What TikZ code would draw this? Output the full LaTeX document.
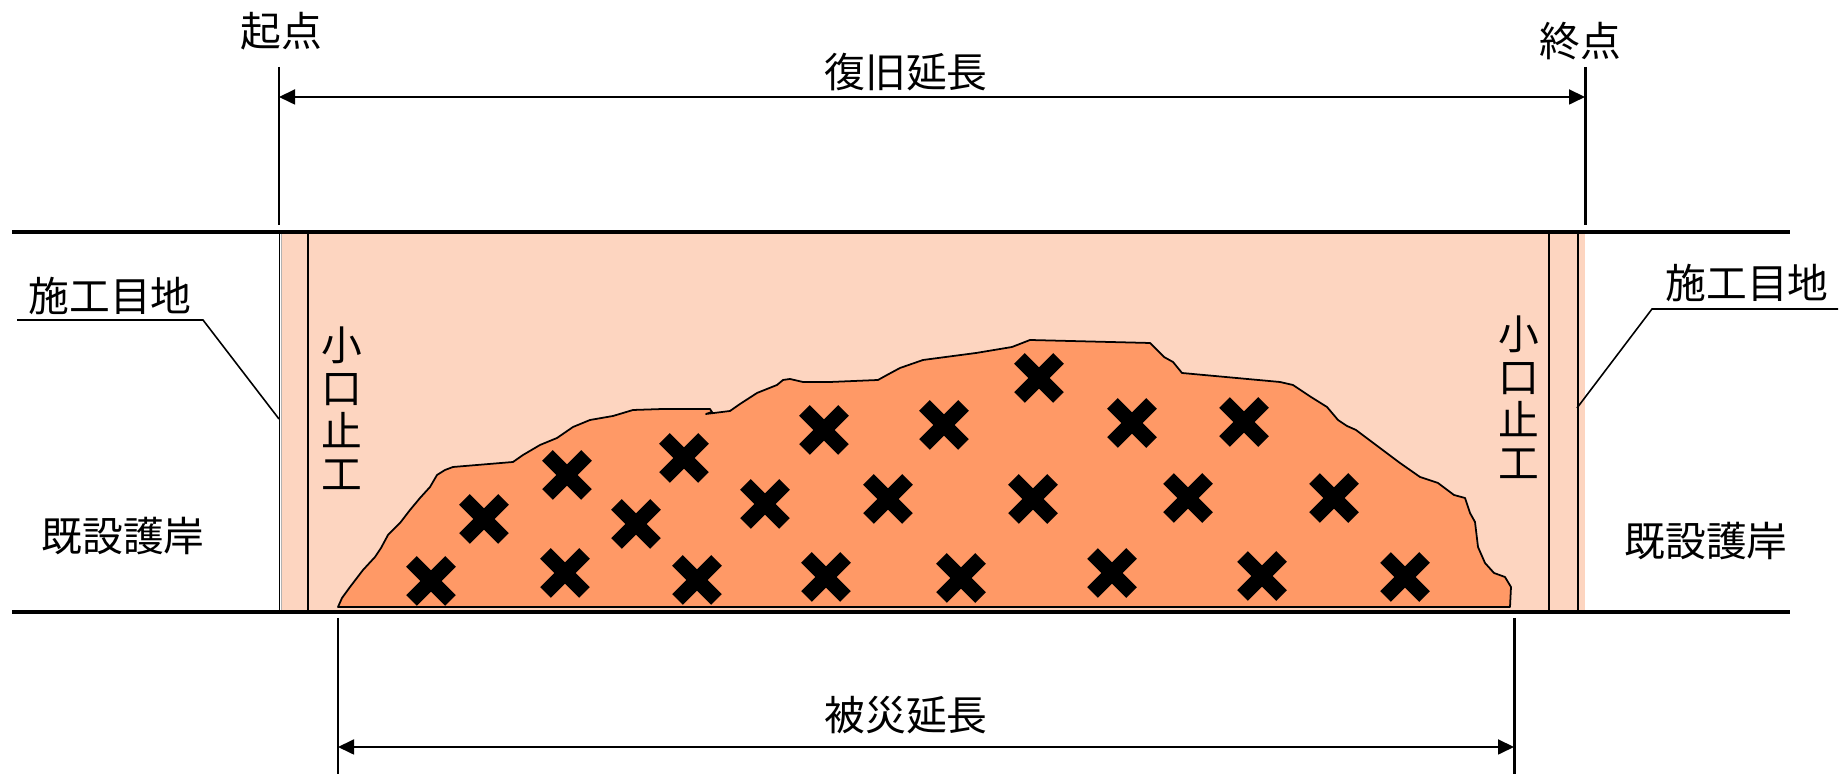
\documentclass[tikz,border=0pt]{standalone}
\usepackage{fontspec}
\newfontfamily\jpfont{Noto Sans CJK JP}
\usetikzlibrary{arrows.meta}
\definecolor{revetpale}{RGB}{253,213,192}
\definecolor{debrisorange}{RGB}{255,153,102}

\begin{document}
\begin{tikzpicture}[x=0.01cm, y=-0.01cm,
  lbl/.style={font=\jpfont\fontsize{11.6pt}{13pt}\selectfont, inner sep=0pt},
  vlbl/.style={font=\jpfont\fontsize{11.6pt}{0.43cm}\selectfont, inner sep=0pt, align=center},
  wall/.style={line width=0.95pt},
  tickline/.style={line width=0.85pt},
  dimline/.style={line width=0.5pt,
    {Triangle[length=0.16cm,width=0.15cm]}-{Triangle[length=0.16cm,width=0.15cm]}},
  leader/.style={line width=0.45pt},
  jointline/.style={line width=0.4pt},
  debris/.pic={\draw[line width=0.15cm] (-19.5,-19.5) -- (19.5,19.5) (-19.5,19.5) -- (19.5,-19.5);}
]
\useasboundingbox (0,0) rectangle (1848,774);

% restored section (pale band between the revetment lines)
\fill[revetpale] (282,232) rectangle (1585,612);

% damaged part of the revetment
\filldraw[fill=debrisorange, draw=black, line width=0.5pt, line join=round]
  (338,607) -- (342,598) -- (350,587) -- (363,570) -- (375,557) -- (381,548)
  -- (388,535) -- (391,532) -- (400,523) -- (410,510) -- (420,498) -- (430,487)
  -- (437,475) -- (445,470) -- (453,467) -- (513,462) -- (523,455) -- (540,445)
  -- (557,438) -- (573,427) -- (590,420) -- (613,416) -- (633,410) -- (663,409)
  -- (710,409) -- (712,412) -- (706,414) -- (730,411) -- (740,404) -- (757,393)
  -- (777,385) -- (783,380) -- (790,379) -- (803,382) -- (830,382) -- (878,380)
  -- (887,375) -- (900,368) -- (923,360) -- (976,353) -- (1012,347) -- (1030,340)
  -- (1150,343) -- (1157,350) -- (1164,357) -- (1173,362) -- (1182,373)
  -- (1280,382) -- (1293,385) -- (1311,397) -- (1327,407) -- (1338,420)
  -- (1347,426) -- (1356,430) -- (1376,445) -- (1400,463) -- (1420,477)
  -- (1438,483) -- (1454,495) -- (1465,498) -- (1470,513) -- (1475,522)
  -- (1478,547) -- (1485,563) -- (1494,573) -- (1505,577) -- (1511,587)
  -- (1510,607) -- cycle;

% damage marks
\foreach \p in {(1039,378),
  (824,430),(944,425),(1132,423),(1244,422),
  (567,475),(684,458),
  (484,519),(636,524),(765,504),(888,499),(1033,499),(1188,498),(1334,498),
  (431,581),(565,573),(697,580),(826,577),(961,578),(1112,573),(1262,576),(1405,577)}
  \pic at \p {debris};

% construction joints and end walls
\draw[jointline] (279.5,232) -- (279.5,612);
\draw[jointline, gray!60] (281.3,232) -- (281.3,612);
\draw[jointline] (308,232) -- (308,612);
\draw[jointline] (1549,232) -- (1549,612);
\draw[jointline] (1578,232) -- (1578,612);

% revetment crown and toe lines
\draw[wall] (12,232) -- (1790,232);
\draw[wall] (12,612) -- (1790,612);

% labels
\node[lbl] (start) at (281,31) {起点};
\node[lbl] (end) at (1580,41) {終点};
\node[lbl] (restlen) at (906,72) {復旧延長};
\node[lbl] (damlen) at (906,715) {被災延長};
\node[lbl] (jointL) at (110,296) {施工目地};
\node[lbl] (jointR) at (1747,283) {施工目地};
\node[lbl] (existL) at (123,536) {既設護岸};
\node[lbl] (existR) at (1706,541) {既設護岸};
\node[vlbl] (capL) at (342,408) {小\\口\\止\\工};
\node[vlbl] (capR) at (1519,397) {小\\口\\止\\工};

% dimension ticks and arrows
\coordinate (startTop) at (279,67);   \coordinate (startBot) at (279,225);
\coordinate (endTop) at (1585,67);    \coordinate (endBot) at (1585,225);
\coordinate (damLTop) at (338,618);   \coordinate (damLBot) at (338,774);
\coordinate (damRTop) at (1514,618);  \coordinate (damRBot) at (1514,774);
\draw[tickline] (startTop) -- (startBot);
\draw[tickline] (endTop) -- (endBot);
\draw[tickline] (damLTop) -- (damLBot);
\draw[tickline] (damRTop) -- (damRBot);
\coordinate (restA) at (279,97);  \coordinate (restB) at (1585,97);
\coordinate (damA) at (338,747);  \coordinate (damB) at (1514,747);
\draw[dimline] (restA) -- (restB);
\draw[dimline] (damA) -- (damB);

% leaders to the construction joints
\coordinate (jLa) at (17,320);   \coordinate (jLb) at (203,320);  \coordinate (jLc) at (279,419);
\coordinate (jRa) at (1838,309); \coordinate (jRb) at (1652,309); \coordinate (jRc) at (1577,408);
\draw[leader] (jLa) -- (jLb) -- (jLc);
\draw[leader] (jRa) -- (jRb) -- (jRc);
\end{tikzpicture}
\end{document}
